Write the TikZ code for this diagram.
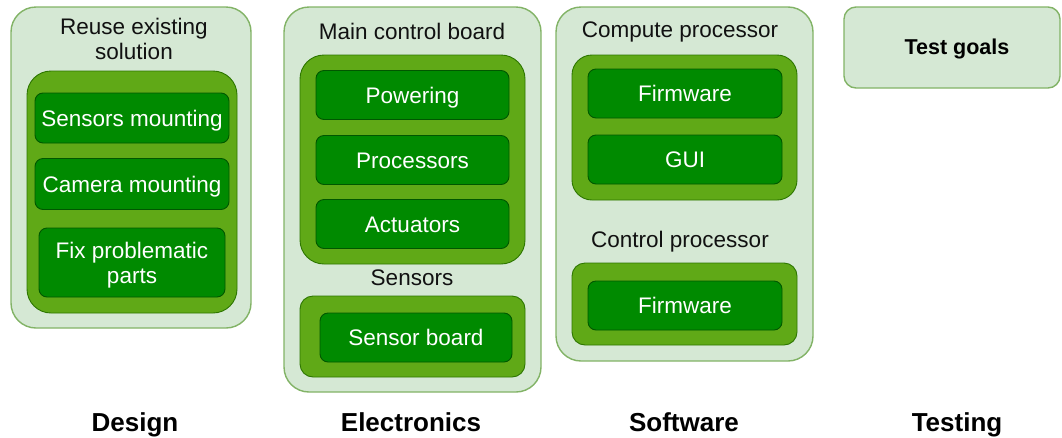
\documentclass[tikz,border=0pt]{standalone}
\usepackage{fontspec}
\setmainfont{Liberation Sans}
\definecolor{paleFill}{HTML}{D5E8D4}
\definecolor{paleLine}{HTML}{82B366}
\definecolor{midFill}{HTML}{60A917}
\definecolor{midLine}{HTML}{2D7600}
\definecolor{darkFill}{HTML}{008A00}
\definecolor{darkLine}{HTML}{005700}
\definecolor{titleInk}{HTML}{111111}
\tikzset{
  panel/.style={rectangle, rounded corners=25pt, fill=paleFill, draw=paleLine, line width=1.4pt, inner sep=0pt},
  group/.style={rectangle, rounded corners=24pt, fill=midFill, draw=midLine, line width=0.9pt, inner sep=0pt},
  itembase/.style={rectangle, rounded corners=8pt, fill=darkFill, draw=darkLine, line width=0.9pt, inner sep=0pt,
    text=white, align=center, font=\fontsize{22.5}{25}\selectfont},
  % single-line items: the capitals sit centred in the box
  item/.style={itembase, text height=16pt, text depth=0pt},
  itemtext/.style={text=white, align=center, inner sep=0pt, font=\fontsize{22.5}{25}\selectfont},
  heading/.style={text=titleInk, align=center, inner sep=0pt, font=\fontsize{22.5}{25}\selectfont},
  phase/.style={text=black, inner sep=0pt, text height=19pt, text depth=0pt, font=\bfseries\fontsize{26}{30}\selectfont},
}
\begin{document}
\begin{tikzpicture}[x=1pt, y=-1pt]
\useasboundingbox (0,0) rectangle (1062,437);

% Design
\node[panel, minimum width=240pt, minimum height=321pt] (design) at (131,167.5) {};
\node[heading] (designTitle) at (134,39) {Reuse existing\\[-0.5pt]solution};
\node[group, minimum width=210pt, minimum height=242pt] (designGroup) at (132,192) {};
\node[item, minimum width=194pt, minimum height=50pt] (sensMount) at (132,118) {Sensors mounting};
\node[item, minimum width=194pt, minimum height=51pt] (camMount) at (132,184) {Camera mounting};
\node[itembase, minimum width=186pt, minimum height=69pt] (fixParts) at (132,262.5) {};
\node[itemtext] (fixPartsText) at (132,265) {Fix problematic\\parts};

% Electronics
\node[panel, minimum width=257pt, minimum height=385pt] (electronics) at (412.5,199.5) {};
\node[heading] (mainBoardTitle) at (412,31) {Main control board};
\node[group, minimum width=225pt, minimum height=209pt] (mainBoard) at (412.5,159.5) {};
\node[item, minimum width=193pt, minimum height=49pt] (powering) at (412.5,95) {Powering};
\node[item, minimum width=193pt, minimum height=49pt] (processors) at (412.5,160) {Processors};
\node[item, minimum width=193pt, minimum height=49pt] (actuators) at (412.5,224) {Actuators};
\node[heading] (sensorsTitle) at (412,278) {Sensors};
\node[group, rounded corners=13pt, minimum width=225pt, minimum height=81pt] (sensors) at (412.5,336.5) {};
\node[item, minimum width=192pt, minimum height=49pt] (sensorBoard) at (416,337.5) {Sensor board};

% Software
\node[panel, minimum width=257pt, minimum height=354pt] (software) at (684.5,184) {};
\node[heading] (computeTitle) at (680,32) {Compute processor};
\node[group, rounded corners=20pt, minimum width=225pt, minimum height=145pt] (compute) at (684.5,127.5) {};
\node[item, minimum width=194pt, minimum height=49pt] (computeFw) at (685,93.5) {Firmware};
\node[item, minimum width=194pt, minimum height=49pt] (gui) at (685,159.5) {GUI};
\node[heading] (controlTitle) at (680,242) {Control processor};
\node[group, rounded corners=13pt, minimum width=225pt, minimum height=82pt] (control) at (684.5,304) {};
\node[item, minimum width=194pt, minimum height=49pt] (controlFw) at (685,305.5) {Firmware};

% Testing
\node[panel, rounded corners=12pt, minimum width=216pt, minimum height=81pt] (testing) at (952,47.5) {};
\node[heading, font=\bfseries\fontsize{21.5}{25}\selectfont, text=black, text height=15.5pt, text depth=0pt] (testGoals) at (957,47) {Test goals};

% Phase captions
\node[phase] (capDesign) at (135,422) {Design};
\node[phase] (capElectronics) at (411,422) {Electronics};
\node[phase] (capSoftware) at (684,422) {Software};
\node[phase] (capTesting) at (957,422) {Testing};
\end{tikzpicture}
\end{document}
